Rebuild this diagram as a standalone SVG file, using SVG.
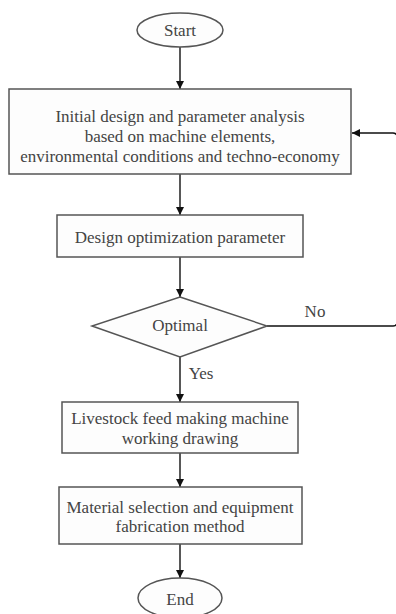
<svg xmlns="http://www.w3.org/2000/svg" width="396" height="614" viewBox="0 0 396 614">
<style>
.shape{fill:#fdfdfd;stroke:#555;stroke-width:1.5}
.t{font-family:"Liberation Serif","Times New Roman",serif;font-size:17px;fill:#444;text-anchor:middle}
.c{fill:none;stroke:#111;stroke-width:1.4}
</style>
<defs>
<marker id="ah" viewBox="0 0 10 10" refX="10" refY="5" markerWidth="8" markerHeight="8" markerUnits="userSpaceOnUse" orient="auto">
<path d="M0,0 L10,5 L0,10 Z" fill="#111"/>
</marker>
</defs>
<g id="connectors">
<line class="c" x1="180" y1="47" x2="180" y2="89" marker-end="url(#ah)"/>
<line class="c" x1="180" y1="174" x2="180" y2="215" marker-end="url(#ah)"/>
<line class="c" x1="180" y1="257" x2="180" y2="297" marker-end="url(#ah)"/>
<line class="c" x1="180" y1="357" x2="180" y2="402" marker-end="url(#ah)"/>
<line class="c" x1="180" y1="453" x2="180" y2="487" marker-end="url(#ah)"/>
<line class="c" x1="180" y1="544" x2="180" y2="578" marker-end="url(#ah)"/>
<path class="c" d="M267,326 H393 Q397,326 397,322 V137 Q397,133 393,133 H352" marker-end="url(#ah)"/>
<text class="t" x="315" y="317">No</text>
<text class="t" x="201" y="379">Yes</text>
</g>
<g id="start">
<ellipse class="shape" cx="180" cy="30" rx="43" ry="17"/>
<text class="t" x="180" y="36">Start</text>
</g>
<g id="initial-design">
<rect class="shape" x="9" y="89" width="342" height="85"/>
<text class="t" x="180" y="122">Initial design and parameter analysis</text>
<text class="t" x="180" y="142">based on machine elements,</text>
<text class="t" x="180" y="162">environmental conditions and techno-economy</text>
</g>
<g id="design-optimization">
<rect class="shape" x="57" y="215" width="246" height="42"/>
<text class="t" x="180" y="243">Design optimization parameter</text>
</g>
<g id="optimal">
<polygon class="shape" points="180,297 267,326 180,357 92,326"/>
<text class="t" x="180" y="331">Optimal</text>
</g>
<g id="working-drawing">
<rect class="shape" x="62" y="402" width="236" height="51"/>
<text class="t" x="180" y="424">Livestock feed making machine</text>
<text class="t" x="180" y="444">working drawing</text>
</g>
<g id="material-selection">
<rect class="shape" x="59" y="487" width="243" height="57"/>
<text class="t" x="180" y="513">Material selection and equipment</text>
<text class="t" x="180" y="532">fabrication method</text>
</g>
<g id="end">
<ellipse class="shape" cx="180" cy="598" rx="42" ry="20"/>
<text class="t" x="180" y="605">End</text>
</g>
</svg>
